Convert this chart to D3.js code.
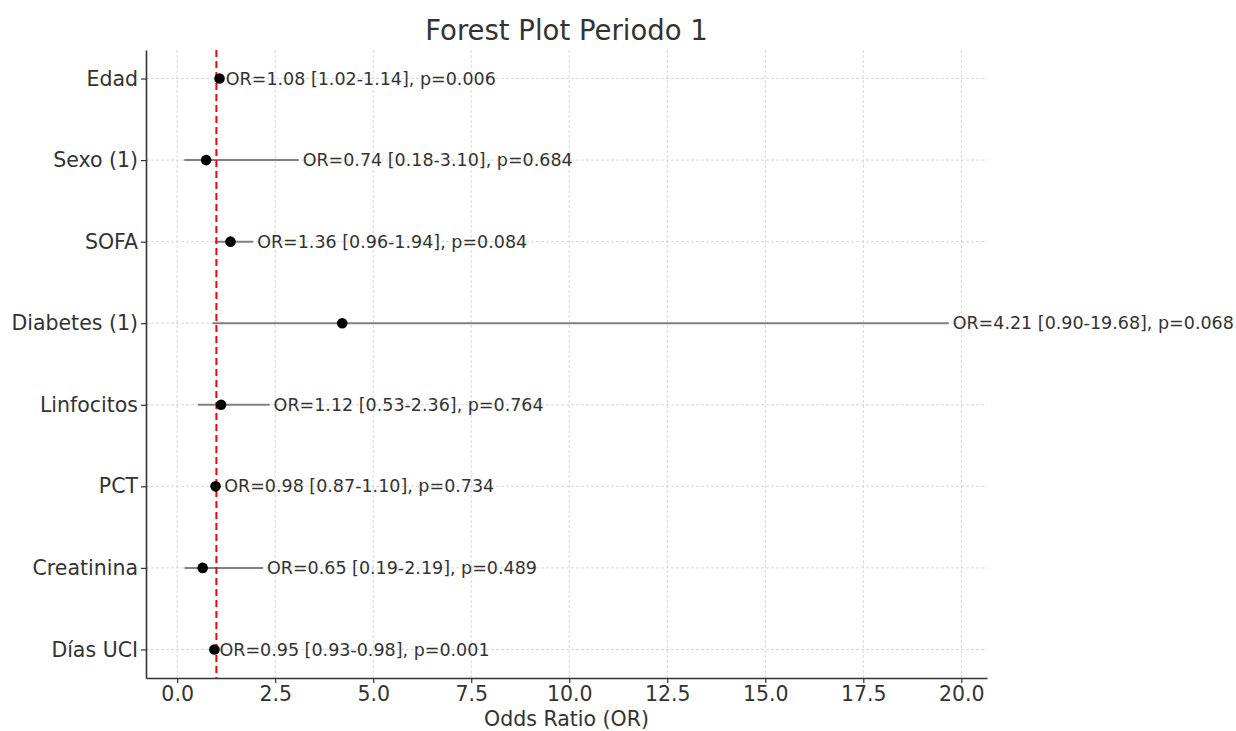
<!DOCTYPE html>
<html>
<head>
<meta charset="utf-8">
<script src="https://cdn.jsdelivr.net/npm/d3@7"></script>
<style>
  body { margin: 0; background: white; }
  text { font-family: "DejaVu Sans", sans-serif; }
</style>
</head>
<body>
<div id="forest"></div>
<script>
// Data
const variables = ["Edad", "Sexo (1)", "SOFA", "Diabetes (1)", "Linfocitos", "PCT", "Creatinina", "Días UCI"];
const oddsRatios = [1.08, 0.74, 1.36, 4.21, 1.12, 0.98, 0.65, 0.95];
const ciLower = [1.02, 0.18, 0.96, 0.90, 0.53, 0.87, 0.19, 0.93];
const ciUpper = [1.14, 3.10, 1.94, 19.68, 2.36, 1.10, 2.19, 0.98];
const pValues = [0.006, 0.684, 0.084, 0.068, 0.764, 0.734, 0.489, 0.001];
const xTicks = [0, 2.5, 5, 7.5, 10, 12.5, 15, 17.5, 20];

const data = variables.map((v, i) => ({
    name: v, or: oddsRatios[i], lo: ciLower[i], hi: ciUpper[i], p: pValues[i]
}));

let width = 1236, height = 731;
let margin = { top: 50, bottom: 53, left: 146, right: 249 };

let svg = d3.select('#forest')
    .append('svg')
    .attr('width', width)
    .attr('height', height);

// matplotlib-like 5% padding
const xmin = d3.min(ciLower), xmax = d3.max(ciUpper);
const pad = (xmax - xmin) * 0.05;
let xScale = d3.scaleLinear()
    .domain([xmin - pad, xmax + pad])
    .range([margin.left, width - margin.right]);

const n = variables.length;
let yScale = d3.scaleLinear()
    .domain([-0.35, n - 1 + 0.35])
    .range([margin.top, height - margin.bottom]);

const textColor = '#333333';

// Grid
svg.append('g')
    .selectAll('line')
    .data(xTicks)
    .enter().append('line')
    .attr('x1', d => xScale(d)).attr('x2', d => xScale(d))
    .attr('y1', margin.top).attr('y2', height - margin.bottom)
    .attr('stroke', '#d3d3d3').attr('stroke-width', 0.9)
    .attr('stroke-dasharray', '3,2');

svg.append('g')
    .selectAll('line')
    .data(data)
    .enter().append('line')
    .attr('x1', margin.left).attr('x2', width - margin.right)
    .attr('y1', (d, i) => yScale(i)).attr('y2', (d, i) => yScale(i))
    .attr('stroke', '#d3d3d3').attr('stroke-width', 0.9)
    .attr('stroke-dasharray', '3,2');

// Axes
let xAxis = svg.append('g')
    .attr('transform', `translate(0, ${height - margin.bottom})`)
    .call(d3.axisBottom(xScale).tickValues(xTicks).tickFormat(d3.format('.1f')).tickSize(5).tickSizeOuter(0));

let yAxis = svg.append('g')
    .attr('transform', `translate(${margin.left}, 0)`)
    .call(d3.axisLeft(yScale).tickValues(d3.range(n)).tickFormat(i => variables[i]).tickSize(5).tickSizeOuter(0));

[xAxis, yAxis].forEach(ax => {
    ax.select('.domain').attr('stroke', '#333333').attr('stroke-width', 1.6);
    ax.selectAll('.tick line').attr('stroke', '#333333').attr('stroke-width', 1.2);
    ax.selectAll('.tick text')
        .attr('fill', textColor)
        .style('font-family', '"DejaVu Sans", sans-serif')
        .style('font-size', '20.5px');
});
xAxis.selectAll('.tick text').attr('y', 8).attr('dy', '0.71em');
yAxis.selectAll('.tick text').attr('x', -8);

// Confidence intervals
svg.append('g')
    .selectAll('line')
    .data(data)
    .enter().append('line')
    .attr('x1', d => xScale(d.lo)).attr('x2', d => xScale(d.hi))
    .attr('y1', (d, i) => yScale(i)).attr('y2', (d, i) => yScale(i))
    .attr('stroke', '#808080').attr('stroke-width', 2);

// Reference line at OR = 1
svg.append('line')
    .attr('x1', xScale(1)).attr('x2', xScale(1))
    .attr('y1', margin.top).attr('y2', height - margin.bottom)
    .attr('stroke', '#ff0000').attr('stroke-width', 2)
    .attr('stroke-dasharray', '7,4');

// Points
svg.append('g')
    .selectAll('circle')
    .data(data)
    .enter().append('circle')
    .attr('cx', d => xScale(d.or))
    .attr('cy', (d, i) => yScale(i))
    .attr('r', 5.3)
    .attr('fill', 'black');

// Annotations
svg.append('g')
    .selectAll('text')
    .data(data)
    .enter().append('text')
    .attr('x', d => xScale(d.hi + 0.1))
    .attr('y', (d, i) => yScale(i))
    .attr('dy', '0.35em')
    .attr('fill', textColor)
    .style('font-size', '17.5px')
    .text(d => `OR=${d.or.toFixed(2)} [${d.lo.toFixed(2)}-${d.hi.toFixed(2)}], p=${d.p.toFixed(3)}`);

// Title
svg.append('text')
    .attr('x', (margin.left + width - margin.right) / 2)
    .attr('y', 40)
    .attr('text-anchor', 'middle')
    .attr('fill', textColor)
    .style('font-size', '27.5px')
    .text('Forest Plot Periodo 1');

// X label
svg.append('text')
    .attr('x', (margin.left + width - margin.right) / 2)
    .attr('y', 726)
    .attr('text-anchor', 'middle')
    .attr('fill', textColor)
    .style('font-size', '20.5px')
    .text('Odds Ratio (OR)');
</script>
</body>
</html>
